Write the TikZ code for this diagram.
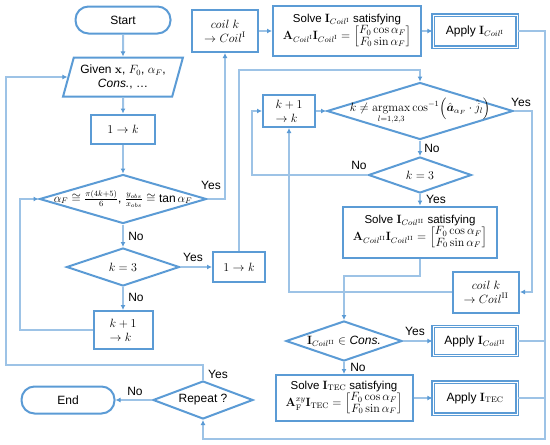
\documentclass[tikz,border=0pt]{standalone}
\usepackage{amsmath,amssymb}
\usepackage[no-math]{fontspec}
\setmainfont{Liberation Sans}
\usetikzlibrary{shapes.geometric,arrows.meta}
\definecolor{sb}{HTML}{5B9BD5}
\definecolor{lb}{HTML}{9DC3E6}
\newcommand{\fmat}{\renewcommand{\arraystretch}{0.8}\begin{bmatrix}F_0\cos\alpha_F\\ F_0\sin\alpha_F\end{bmatrix}}
\begin{document}
\begin{tikzpicture}[x=1pt,y=-1pt,
  font=\fontsize{12}{14}\selectfont,
  sz/.style 2 args={minimum width=#1,minimum height=#2},
  box/.style={draw=sb,line width=2pt,rectangle,inner sep=0pt,align=center},
  solve/.style={box,font=\fontsize{11.5}{13}\selectfont},
  term/.style={box,rounded corners=13pt},
  dbl/.style={draw=sb,line width=1.3pt,double=white,double distance=1pt,rectangle,inner sep=0pt,align=center},
  dia/.style={draw=sb,line width=2pt,diamond,inner sep=0pt},
  para/.style={draw=sb,line width=2pt,trapezium,trapezium left angle=70,trapezium right angle=110,trapezium stretches=true,inner sep=1pt,align=center},
  txt/.style={inner sep=0pt,align=center},
  lbl/.style={inner sep=0pt},
  ln/.style={draw=lb,line width=2pt},
  arr/.style={ln,-{Latex[length=5pt,width=5pt,color=sb]}},
]
\useasboundingbox (0,0) rectangle (550,445);
% left column
\node[term,sz={95}{27}] (start) at (123,20) {Start};
\node[para,minimum width=120,minimum height=39] (given) at (123,77) {Given $\mathbf{x}$, $F_0$, $\alpha_F$,\\ \textit{Cons.}, \dots};
\node[box,sz={64}{29}] (onek) at (123,129) {$1 \rightarrow k$};
\node[dia,sz={167}{49}] (d1) at (123,199) {};
\node[txt] (d1t) at (d1) {$\alpha_F \cong \frac{\pi(4k+5)}{6}$, $\frac{y_{obs}}{x_{obs}} \cong \text{tan}\,\alpha_F$};
\node[dia,sz={113}{38}] (d2) at (123,267) {};
\node[txt] (d2t) at (d2) {$k = 3$};
\node[box,sz={59}{38},align=left] (kp1a) at (123,330) {$k+1$\\$\rightarrow k$};
\node[term,sz={93}{27}] (end) at (68,400) {End};
\node[dia,sz={100}{38}] (d6) at (203,400) {};
\node[txt] (d6t) at (d6) {Repeat ?};
% top row
\node[box,sz={66}{42}] (coilI) at (225,31) {$coil\ k$\\$\rightarrow Coil^{\mathrm{I}}$};
\node[solve,sz={148}{50}] (solveI) at (347,31) {Solve $\mathbf{I}_{Coil^{\mathrm{I}}}$ satisfying\\$\mathbf{A}_{Coil^{\mathrm{I}}}\mathbf{I}_{Coil^{\mathrm{I}}} = \fmat$};
\node[dbl,sz={84}{32}] (applyI) at (475,31) {Apply $\mathbf{I}_{Coil^{\mathrm{I}}}$};
% middle
\node[box,sz={52}{30}] (onek2) at (239,267) {$1 \rightarrow k$};
\node[box,sz={52}{32},align=left] (kp1b) at (289,111) {$k+1$\\$\rightarrow k$};
\node[dia,sz={186}{57}] (d3) at (420,111) {};
\node[txt] (d3t) at (d3) {$k \neq \displaystyle\operatorname*{argmax}_{l=1,2,3} \cos^{-1}\!\left(\hat{\boldsymbol{a}}_{\alpha_F}\cdot \hat{j}_l\right)$};
\node[dia,sz={103}{36}] (d4) at (420,175) {};
\node[txt] (d4t) at (d4) {$k = 3$};
\node[solve,sz={154}{51}] (solveII) at (420,232) {Solve $\mathbf{I}_{Coil^{\mathrm{II}}}$ satisfying\\$\mathbf{A}_{Coil^{\mathrm{II}}}\mathbf{I}_{Coil^{\mathrm{II}}} = \fmat$};
\node[box,sz={66}{41}] (coilII) at (486,292) {$coil\ k$\\$\rightarrow Coil^{\mathrm{II}}$};
\node[dia,sz={116}{40}] (d5) at (344,341) {};
\node[txt] (d5t) at (d5) {$\mathbf{I}_{Coil^{\mathrm{II}}} \in$ \textit{Cons.}};
\node[dbl,sz={84}{29}] (applyII) at (475,341) {Apply $\mathbf{I}_{Coil^{\mathrm{II}}}$};
\node[solve,sz={137}{46}] (solveT) at (344,398) {Solve $\mathbf{I}_{\mathrm{TEC}}$ satisfying\\$\mathbf{A}_{\mathrm{F}}^{xy}\mathbf{I}_{\mathrm{TEC}} = \fmat$};
\node[dbl,sz={84}{32}] (applyT) at (475,398) {Apply $\mathbf{I}_{\mathrm{TEC}}$};
% coordinates
\coordinate (cR) at (545,439);
\coordinate (cB) at (203,439);
\coordinate (cT) at (300,70);
\coordinate (cL) at (252,175);
\coordinate (cR2) at (532,200);
\coordinate (cM) at (380,276);
\coordinate (cY) at (6,365);
\coordinate (cK) at (20,260);
% connectors
\draw[arr] (start.south) -- (given.north);
\draw[arr] (given.south) -- (onek.north);
\draw[arr] (onek.south) -- (d1.north);
\draw[arr] (d1.south) -- (d2.north);
\draw[arr] (d2.south) -- (kp1a.north);
\draw[arr] (kp1a.west) -| (cK) |- (d1.west);
\draw[arr] (d1.east) -| (coilI.south);
\draw[arr] (coilI.east) -- (solveI.west);
\draw[arr] (solveI.east) -- (applyI.west);
\draw[arr] (applyI.east) -| (cR) -- (cB) -- (d6.south);
\draw[ln] (applyII.east) -- (applyII.east -| cR);
\draw[ln] (applyT.east) -- (applyT.east -| cR);
\draw[arr] (d2.east) -- (onek2.west);
\draw[arr] (onek2.north) |- (cT) -| (d3.north);
\draw[arr] (kp1b.east) -- (d3.west);
\draw[arr] (d3.south) -- (d4.north);
\draw[arr] (d4.west) -- (cL) |- (kp1b.west);
\draw[arr] (d4.south) -- (solveII.north);
\draw[arr] (d3.east) -| (cR2) |- (coilII.east);
\draw[arr] (coilII.west) -| (kp1b.south);
\draw[arr] (solveII.south) |- (cM) -| (d5.north);
\draw[arr] (d5.east) -- (applyII.west);
\draw[arr] (d5.south) -- (solveT.north);
\draw[arr] (solveT.east) -- (applyT.west);
\draw[arr] (d6.west) -- (end.east);
\draw[arr] (d6.north) |- (cY) |- (given.west);
% labels
\node[lbl] (n1) at (136,236) {No};
\node[lbl] (n2) at (136,297) {No};
\node[lbl] (y2) at (193,257) {Yes};
\node[lbl] (y1) at (211,185) {Yes};
\node[lbl] (n4) at (359,165) {No};
\node[lbl] (y3) at (521,102) {Yes};
\node[lbl] (n3) at (432,148) {No};
\node[lbl] (y4) at (436,199) {Yes};
\node[lbl] (y5) at (415,331) {Yes};
\node[lbl] (n5) at (358,367) {No};
\node[lbl] (n6) at (135,391) {No};
\node[lbl] (y6) at (218,374) {Yes};
\end{tikzpicture}
\end{document}
